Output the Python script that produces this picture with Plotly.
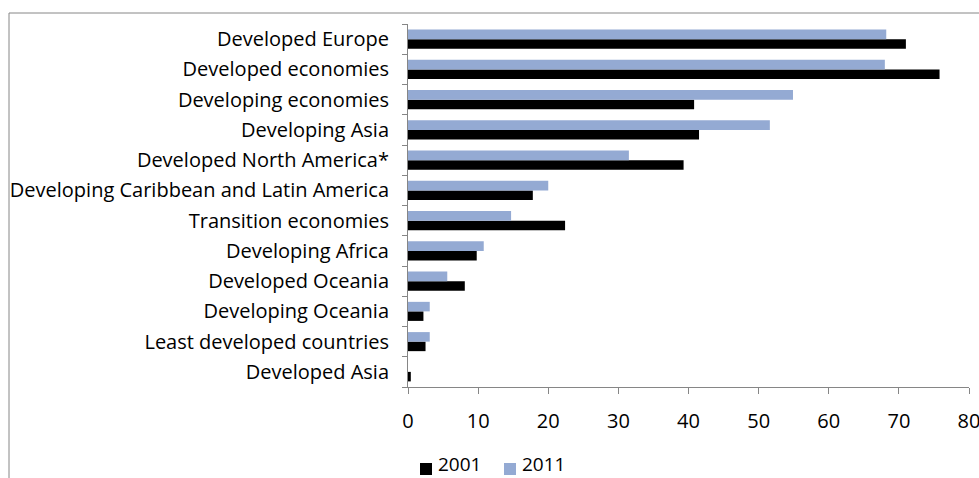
import plotly.graph_objects as go

categories = [
    "Developed Europe",
    "Developed economies",
    "Developing economies",
    "Developing Asia",
    "Developed North America*",
    "Developing Caribbean and Latin America",
    "Transition economies",
    "Developing Africa",
    "Developed Oceania",
    "Developing Oceania",
    "Least developed countries",
    "Developed Asia",
]
values_2001 = [71.0, 75.8, 40.8, 41.5, 39.3, 17.8, 22.4, 9.8, 8.1, 2.2, 2.5, 0.4]
values_2011 = [68.2, 68.0, 54.9, 51.6, 31.5, 20.0, 14.7, 10.8, 5.6, 3.1, 3.1, 0.0]
x_ticks = [0, 10, 20, 30, 40, 50, 60, 70, 80]
series_names = ["2001", "2011"]
series_colors = ["#000000", "#94AAD3"]

# plot bottom-to-top so first category ends up on top
cats = categories[::-1]
v01 = values_2001[::-1]
v11 = values_2011[::-1]

FONT = "Open Sans, sans-serif"
FS = 20
AXIS = "#868686"

fig = go.Figure()
fig.add_trace(go.Bar(y=cats, x=v01, orientation="h", name=series_names[0],
                     marker=dict(color=series_colors[0], line=dict(width=0))))
fig.add_trace(go.Bar(y=cats, x=v11, orientation="h", name=series_names[1],
                     marker=dict(color=series_colors[1], line=dict(width=0))))

W, H = 979, 478
L, R, T, B = 408, 10, 24, 91
pw = W - L - R
ph = H - T - B

def px_x(p):
    return (p - L) / pw

def px_y(p):
    return (H - B - p) / ph

# manual legend (keeps the plot area from being shrunk by the legend)
shapes = [dict(type="rect", xref="paper", yref="paper",
               x0=px_x(9), x1=px_x(990), y0=px_y(490), y1=px_y(13),
               line=dict(color=AXIS, width=1), fillcolor="rgba(0,0,0,0)",
               layer="below")]
annotations = []
legend_sq_x = [420, 504]
legend_tx_x = [437, 521]
for i, name in enumerate(series_names):
    shapes.append(dict(type="rect", xref="paper", yref="paper",
                       x0=px_x(legend_sq_x[i]), x1=px_x(legend_sq_x[i] + 12),
                       y0=px_y(475), y1=px_y(463),
                       line=dict(width=0), fillcolor=series_colors[i]))
    annotations.append(dict(text=name, xref="paper", yref="paper",
                            x=px_x(legend_tx_x[i]), y=px_y(477.5),
                            xanchor="left", yanchor="bottom", showarrow=False,
                            borderpad=0,
                            font=dict(family=FONT, size=19, color="#000000")))

fig.update_layout(
    width=W, height=H,
    margin=dict(l=L, r=R, t=T, b=B, pad=0, autoexpand=False),
    paper_bgcolor="white", plot_bgcolor="white",
    barmode="group", bargap=0.37, bargroupgap=0,
    font=dict(family=FONT, size=FS, color="#000000"),
    showlegend=False,
    xaxis=dict(range=[0, 80], tickvals=x_ticks, ticktext=[str(v) for v in x_ticks],
               showgrid=False, zeroline=False, showline=True, linecolor=AXIS,
               linewidth=1, ticks="outside", ticklen=6, tickcolor=AXIS,
               ticklabelstandoff=10, ticklabeloverflow="allow",
               automargin=False, fixedrange=True),
    yaxis=dict(type="category", categoryorder="array", categoryarray=cats,
               showgrid=False, zeroline=False, showline=True, linecolor=AXIS,
               linewidth=1, ticks="outside", ticklen=5, tickcolor=AXIS,
               tickson="boundaries", ticklabelstandoff=14,
               automargin=False, fixedrange=True),
    shapes=shapes,
    annotations=annotations,
)

fig.write_html("out.html")
